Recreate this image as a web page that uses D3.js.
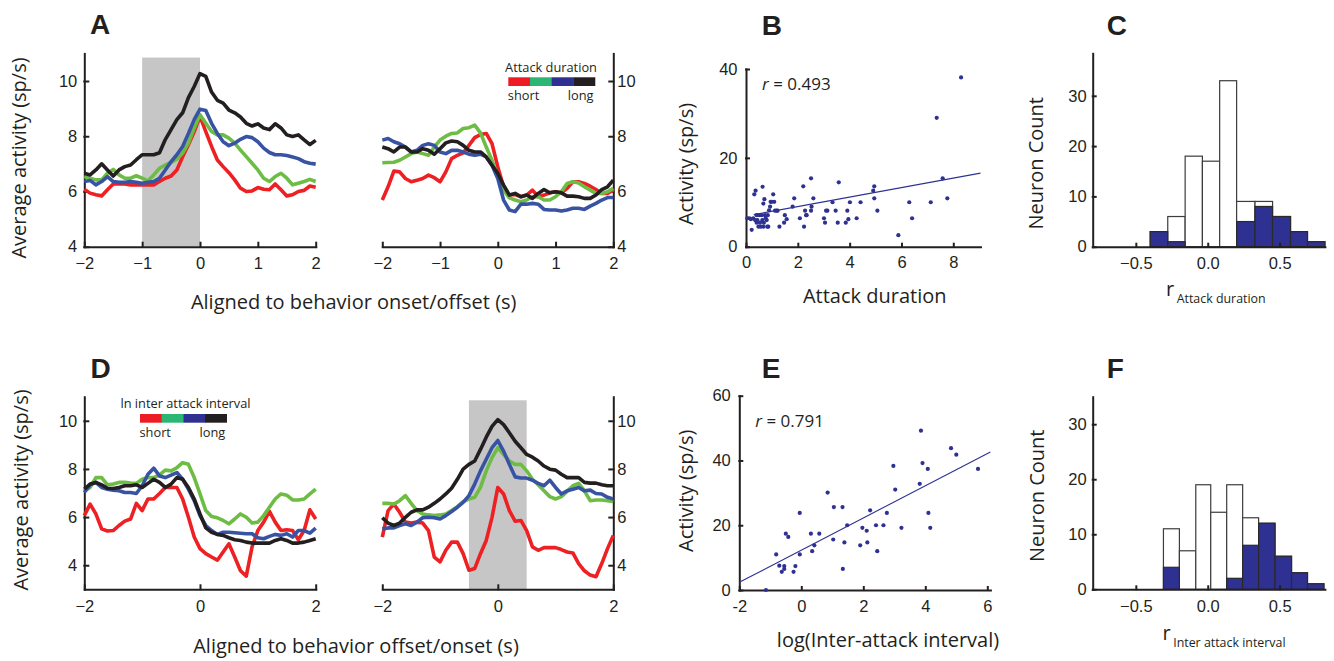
<!DOCTYPE html>
<html>
<meta charset="utf-8">
<title>Activity vs attack duration and inter-attack interval</title>
<style>
  body { margin: 0; background: #fff; }
  svg { display: block; }
  .tick text { font-family: "Liberation Sans", Arial, sans-serif; font-size: 16.5px; fill: #231f20; }
  .domain, .tick line { stroke: #231f20; stroke-width: 2px; stroke-linecap: square; }
  .lab { font-family: "Open Sans", sans-serif; font-size: 20px; fill: #231f20; }
  .leg { font-family: "Open Sans", sans-serif; font-size: 12.8px; fill: #231f20; }
  .letter { font-family: "Liberation Sans", Arial, sans-serif; font-weight: bold; font-size: 28px; fill: #231f20; }
  .trace { fill: none; stroke-width: 3.6px; stroke-linejoin: round; stroke-linecap: butt; }
</style>
<body>
<div id="chart"></div>
<script src="https://d3js.org/d3.v7.min.js"></script>
<script>

// time bins (s)
const T = [-2,-1.9,-1.8,-1.7,-1.6,-1.5,-1.4,-1.3,-1.2,-1.1,-1,-0.9,-0.8,-0.7,-0.6,-0.5,-0.4,-0.3,-0.2,-0.1,0,
           0.1,0.2,0.3,0.4,0.5,0.6,0.7,0.8,0.9,1,1.1,1.2,1.3,1.4,1.5,1.6,1.7,1.8,1.9,2];

// A, aligned to onset (left) / offset (right), by attack duration quartile
const aOnRed   = [6.08,5.94,5.88,5.84,6.06,6.27,6.27,6.27,6.24,6.24,6.24,6.24,6.24,6.36,6.48,6.56,6.78,7.26,7.69,8.17,8.72,8.17,7.63,7.14,6.9,6.68,6.42,6.12,6.0,6.02,6.14,6.08,6.06,6.27,6.06,5.84,5.88,6.0,6.04,6.2,6.15];
const aOnGreen = [6.54,6.48,6.42,6.42,6.66,6.8,6.6,6.48,6.48,6.57,6.48,6.38,6.6,6.84,6.96,7.05,7.17,7.39,7.75,8.3,8.78,8.47,8.17,8.05,8.05,7.93,7.75,7.5,7.26,7.02,6.78,6.48,6.36,6.54,6.66,6.48,6.24,6.3,6.36,6.44,6.36];
const aOnBlue  = [6.36,6.4,6.24,6.36,6.54,6.36,6.33,6.33,6.36,6.33,6.3,6.33,6.36,6.48,6.78,7.08,7.33,7.63,8.1,8.6,8.98,8.93,8.47,8.1,7.8,7.66,7.75,7.89,7.99,7.95,7.8,7.57,7.41,7.33,7.33,7.3,7.25,7.19,7.08,7.02,6.99];
const aOnBlack = [6.66,6.6,6.78,7.0,6.78,6.56,6.78,6.9,6.96,7.15,7.33,7.33,7.33,7.4,7.88,8.24,8.6,8.85,9.4,9.8,10.27,10.17,9.6,9.3,9.2,8.95,8.85,8.7,8.47,8.37,8.45,8.3,8.24,8.45,8.3,8.05,7.99,8.05,7.87,7.7,7.85];

const aOffRed   = [5.69,6.17,6.74,6.71,6.47,6.35,6.41,6.47,6.59,6.5,6.35,6.71,7.19,7.31,7.4,7.67,7.95,8.06,8.1,7.73,6.89,6.17,5.87,5.89,5.81,5.87,6.05,5.81,5.87,5.95,5.99,5.95,6.11,6.35,6.35,6.29,6.19,6.07,5.93,5.93,6.05];
const aOffGreen = [7.04,7.05,7.06,7.13,7.25,7.37,7.43,7.37,7.31,7.61,7.86,8.0,8.1,8.12,8.28,8.31,8.4,8.12,7.61,7.13,6.53,6.05,5.77,5.69,5.63,5.69,5.81,5.81,5.69,5.69,5.81,5.99,6.29,6.35,6.31,6.17,6.05,5.93,5.93,5.99,6.11];
const aOffBlue  = [7.86,7.92,7.8,7.73,7.61,7.43,7.49,7.67,7.73,7.67,7.43,7.37,7.49,7.49,7.43,7.35,7.31,7.35,7.25,6.95,6.47,5.69,5.33,5.27,5.54,5.54,5.57,5.54,5.35,5.33,5.33,5.29,5.33,5.39,5.39,5.35,5.47,5.57,5.69,5.78,5.78];
const aOffBlack = [7.61,7.55,7.43,7.61,7.61,7.43,7.43,7.55,7.49,7.35,7.55,7.76,7.83,7.8,7.67,7.49,7.43,7.43,7.25,6.95,6.65,6.23,5.87,5.93,5.81,5.87,5.75,5.93,6.07,5.95,5.99,5.95,5.83,5.83,5.81,5.75,5.75,5.87,6.07,6.17,6.41];

// D, aligned to offset (left) / onset (right), by inter-attack interval quartile
const dOffRed   = [6.06,6.54,6.13,5.51,5.42,5.44,5.65,5.83,5.92,6.57,6.27,6.75,6.75,6.98,7.23,7.23,7.23,6.75,5.99,5.17,4.69,4.48,4.34,4.21,4.55,4.89,4.34,3.77,3.55,4.76,5.44,5.79,6.24,5.79,5.44,5.47,5.44,5.06,5.44,6.3,5.92];
const dOffGreen = [7.09,7.23,7.64,7.64,7.34,7.37,7.44,7.44,7.41,7.4,7.57,7.64,7.64,7.75,7.95,7.92,8.05,8.26,8.19,7.64,6.96,6.27,6.02,5.97,5.86,5.72,5.92,6.13,5.99,5.75,5.79,6.06,6.41,6.75,6.96,6.91,6.71,6.71,6.75,6.96,7.16];
const dOffBlue  = [7.02,7.34,7.44,7.23,7.16,7.12,7.09,7.02,7.02,6.98,7.3,7.78,8.03,7.71,7.64,7.74,7.85,7.57,7.16,6.68,6.06,5.65,5.44,5.28,5.37,5.37,5.35,5.33,5.31,5.31,5.14,5.1,5.2,5.28,5.24,5.31,5.17,5.44,5.44,5.33,5.54];
const dOffBlack = [7.16,7.37,7.44,7.34,7.2,7.19,7.23,7.3,7.3,7.34,7.23,7.4,7.57,7.44,7.23,7.37,7.64,7.57,7.23,6.75,6.13,5.55,5.37,5.28,5.24,5.14,5.06,5.03,4.96,4.92,4.92,4.92,4.92,5.03,5.1,5.03,4.92,4.92,4.96,5.03,5.1];

const dOnRed   = [5.17,6.27,6.54,6.2,5.79,5.75,5.79,5.75,5.44,4.34,4.14,4.62,4.96,4.96,4.48,3.79,3.86,4.48,5.03,5.99,7.23,6.96,6.27,5.83,5.86,5.44,4.76,4.62,4.73,4.73,4.73,4.65,4.55,4.51,4.07,3.77,3.59,3.52,4.07,4.69,5.24];
const dOnGreen = [6.57,6.57,6.54,6.68,6.89,6.57,6.27,6.13,6.09,6.06,6.09,6.13,6.27,6.43,6.64,6.75,6.82,7.23,7.92,8.47,8.88,8.6,8.33,8.19,8.19,7.92,7.57,7.34,7.09,6.85,6.75,6.85,7.07,7.3,7.4,7.09,6.68,6.71,6.71,6.68,6.65];
const dOnBlue  = [5.51,5.55,5.55,5.65,5.72,5.65,5.79,5.97,5.99,5.97,5.92,6.06,6.23,6.41,6.61,6.89,7.37,7.92,8.4,8.88,9.18,8.74,8.19,7.67,7.62,7.62,7.53,7.4,7.3,7.53,7.23,6.96,7.09,7.16,7.23,7.09,7.12,6.98,6.96,6.82,6.75];
const dOnBlack = [5.97,5.75,5.65,5.75,5.99,6.2,6.3,6.3,6.41,6.57,6.75,6.96,7.2,7.57,7.99,8.19,8.33,8.81,9.32,9.77,10.05,9.84,9.5,9.15,8.88,8.6,8.49,8.33,8.12,7.99,7.95,7.78,7.64,7.64,7.64,7.44,7.41,7.41,7.34,7.3,7.3];

const lineColors = ['#ed2024', '#6dbd45', '#3953a4', '#231f20'];
const legendColors = ['#ed1c24', '#2bb673', '#2e3192', '#231f20'];

// B: activity vs attack duration
const bX = [0.05,0.13,0.19,0.22,0.28,0.35,0.32,0.37,0.41,0.41,0.44,0.48,0.51,0.54,0.57,0.6,0.63,0.64,0.67,0.67,0.69,0.71,0.73,0.76,0.8,0.82,0.86,0.84,0.89,0.93,0.95,0.99,1.05,1.09,1.12,1.18,1.22,1.29,1.47,1.5,1.57,1.8,1.86,2.08,2.21,2.24,2.28,2.32,2.34,2.51,2.53,2.51,2.6,3.01,3.05,3.09,3.14,3.34,3.46,3.54,3.58,3.85,3.91,3.95,4.01,4.27,4.42,4.91,4.95,4.95,5.07,5.88,6.3,6.41,7.13,7.36,7.59,7.77,8.3];
const bY = [6.4,6.4,6.2,3.8,6.4,6.0,11.8,12.6,7.1,5.4,6.0,4.5,7.1,5.4,4.5,7.1,6.0,13.5,9.7,4.5,5.4,10.7,7.1,6.4,6.0,4.5,4.5,7.1,8.2,9.0,10.1,10.1,11.8,10.1,8.1,8.1,8.1,4.5,5.4,7.1,6.2,9.0,10.9,6.4,13.6,4.5,8.1,7.1,7.1,8.1,9.0,15.4,10.9,6.4,5.4,8.1,8.1,10.0,8.1,5.4,14.5,5.4,8.1,6.2,10.0,6.4,10.0,12.6,13.6,10.9,8.1,2.6,10.0,6.4,10.0,29.0,15.4,10.9,38.1];
const bFit = { intercept: 6.9, slope: 1.067, from: 0.3, to: 9.05 };

// E: activity vs log inter-attack interval
const eX = [-1.14,-0.81,-0.71,-0.63,-0.55,-0.55,-0.5,-0.42,-0.25,-0.19,-0.05,-0.05,0.31,0.35,0.42,0.58,0.85,1.03,1.05,1.33,1.34,1.39,1.48,1.9,1.97,2.11,2.13,2.22,2.41,2.45,2.65,2.76,2.97,3.03,3.23,3.82,3.86,3.91,4.08,4.1,4.16,4.83,5.0,5.7];
const eY = [0,11.0,7.5,5.6,7.4,6.5,17.4,16.4,5.6,7.4,23.8,11.0,17.4,12.0,13.8,17.4,30.1,15.6,25.6,25.6,6.5,14.7,20.0,13.8,19.2,18.3,14.7,24.6,20.0,12.0,20.0,23.8,38.3,31.0,19.2,32.8,49.2,39.2,37.4,23.8,19.2,43.8,41.8,37.4];
const eFit = { intercept: 12.3, slope: 4.97, from: -2, to: 6.1 };

// C, F: histograms of r (all neurons / significant neurons)
const cEdges = [-0.40,-0.278,-0.157,-0.037,0.083,0.201,0.329,0.451,0.576,0.694,0.815];
const cAll   = [3,6,18,17,33,9,9,6,3,1];
const cSig   = [3,1,0,0,0,5,8,6,3,1];
const fEdges = [-0.308,-0.197,-0.083,0.021,0.132,0.243,0.354,0.468,0.583,0.694,0.808];
const fAll   = [11,7,19,14,19,13,12,6,3,1];
const fSig   = [4,0,0,0,2,8,12,6,3,1];

const svg = d3.select('#chart').append('svg')
  .attr('width', 1334)
  .attr('height', 661);
svg.append('rect').attr('width', 1334).attr('height', 661).attr('fill', '#fff');

const navy = '#2e3192';
const intFmt = d3.format('d');

function tracePanel(o) {
  const x = d3.scaleLinear().domain([-2, 2]).range([o.left, o.right]);
  const y = d3.scaleLinear().domain(o.yDom).range([o.bottom, o.top]);

  if (o.shade) {
    svg.append('rect')
      .attr('x', x(o.shade[0]))
      .attr('width', x(o.shade[1]) - x(o.shade[0]))
      .attr('y', y(10.85))
      .attr('height', y(o.yDom[0]) - y(10.85))
      .attr('fill', '#c6c6c6');
  }

  svg.append('g')
    .attr('transform', `translate(0,${o.bottom})`)
    .call(d3.axisBottom(x).tickValues(o.xTicks).tickFormat(intFmt)
      .tickSize(-4).tickSizeOuter(0).tickPadding(11));

  if (o.side === 'left') {
    svg.append('g')
      .attr('transform', `translate(${o.left},0)`)
      .call(d3.axisLeft(y).tickValues([4, 6, 8, 10]).tickFormat(intFmt)
        .tickSize(-4).tickSizeOuter(0).tickPadding(7));
  } else {
    svg.append('g')
      .attr('transform', `translate(${o.right},0)`)
      .call(d3.axisRight(y).tickValues([4, 6, 8, 10]).tickFormat(intFmt)
        .tickSize(-4).tickSizeOuter(0).tickPadding(4));
  }

  const line = d3.line().x((d, i) => x(T[i])).y(d => y(d));
  o.series.forEach((s, i) => {
    svg.append('path').attr('class', 'trace').attr('stroke', lineColors[i]).attr('d', line(s));
  });
}

function legend(o) {
  svg.append('text').attr('class', 'leg')
    .attr('x', o.cx).attr('y', o.titleY).attr('text-anchor', 'middle').text(o.title);
  const b = d3.scaleBand().domain(d3.range(legendColors.length)).range([o.x0, o.x1]);
  svg.append('g').selectAll('rect').data(legendColors).enter().append('rect')
    .attr('x', (d, i) => b(i))
    .attr('width', b.bandwidth() + 0.3)
    .attr('y', o.barY)
    .attr('height', 8.7)
    .attr('fill', d => d);
  svg.append('text').attr('class', 'leg').attr('x', o.x0 - 0.5).attr('y', o.textY).text('short');
  svg.append('text').attr('class', 'leg').attr('x', o.x1 - 1.5).attr('y', o.textY)
    .attr('text-anchor', 'end').text('long');
}

function scatterPanel(o) {
  const x = d3.scaleLinear().domain(o.xDom).range([o.left, o.right]);
  const y = d3.scaleLinear().domain(o.yDom).range([o.bottom, o.top]);

  svg.append('g')
    .attr('transform', `translate(0,${o.bottom})`)
    .call(d3.axisBottom(x).tickValues(o.xTicks).tickFormat(o.fmt || intFmt)
      .tickSize(-3).tickSizeOuter(0).tickPadding(10));
  svg.append('g')
    .attr('transform', `translate(${o.left},0)`)
    .call(d3.axisLeft(y).tickValues(o.yTicks).tickFormat(intFmt)
      .tickSize(-3).tickSizeOuter(0).tickPadding(8.5));

  svg.append('line')
    .attr('x1', x(o.fit.from)).attr('y1', y(o.fit.intercept + o.fit.slope * o.fit.from))
    .attr('x2', x(o.fit.to)).attr('y2', y(o.fit.intercept + o.fit.slope * o.fit.to))
    .attr('stroke', navy).attr('stroke-width', 1.1);

  svg.append('g').selectAll('circle').data(o.xs).enter().append('circle')
    .attr('cx', d => x(d))
    .attr('cy', (d, i) => y(o.ys[i]))
    .attr('r', 2.1)
    .attr('fill', navy);

  const t = svg.append('text').attr('class', 'lab').style('font-size', '17px')
    .attr('x', o.left + 16).attr('y', o.rY);
  t.append('tspan').style('font-style', 'italic').text('r');
  t.append('tspan').text(' = ' + o.r);
}

function histPanel(o) {
  const x = d3.scaleLinear().domain([-0.8, 0.815]).range([1092.7, 1324.9]);
  const y = d3.scaleLinear().domain(o.yDom).range([o.bottom, o.top]);

  const bins = o.all.map((n, i) => ({ x0: o.edges[i], x1: o.edges[i + 1], n: n, s: o.sig[i] }));
  const g = svg.append('g');
  g.selectAll('.all').data(bins).enter().append('rect')
    .attr('x', d => x(d.x0)).attr('width', d => x(d.x1) - x(d.x0))
    .attr('y', d => y(d.n)).attr('height', d => y(0) - y(d.n))
    .attr('fill', '#fff').attr('stroke', '#3c3c3c').attr('stroke-width', 1.2);
  g.selectAll('.sig').data(bins.filter(d => d.s > 0)).enter().append('rect')
    .attr('x', d => x(d.x0)).attr('width', d => x(d.x1) - x(d.x0))
    .attr('y', d => y(d.s)).attr('height', d => y(0) - y(d.s))
    .attr('fill', navy).attr('stroke', '#2a2a2a').attr('stroke-width', 1.2);

  svg.append('g')
    .attr('transform', `translate(0,${o.bottom})`)
    .call(d3.axisBottom(x).tickValues([-0.5, 0, 0.5]).tickSize(-3).tickSizeOuter(0).tickPadding(11));
  svg.append('g')
    .attr('transform', 'translate(1092.7,0)')
    .call(d3.axisLeft(y).tickValues([0, 10, 20, 30]).tickFormat(intFmt)
      .tickSize(-3).tickSizeOuter(0).tickPadding(6));

  const t = svg.append('text').attr('class', 'lab').attr('x', o.rX).attr('y', o.rY).text('r');
  t.append('tspan').style('font-size', '12.4px').attr('dx', 2.5).attr('dy', 7.3).text(o.sub);
}

function ylab(txt, bx, cy) {
  svg.append('text').attr('class', 'lab').attr('text-anchor', 'middle')
    .attr('transform', `translate(${bx},${cy}) rotate(-90)`).text(txt);
}
function xlab(txt, cx, by) {
  svg.append('text').attr('class', 'lab').attr('text-anchor', 'middle')
    .attr('x', cx).attr('y', by).text(txt);
}
function letter(txt, lx, by) {
  svg.append('text').attr('class', 'letter').attr('x', lx).attr('y', by).text(txt);
}

// ---- row 1
tracePanel({ left: 84.3, right: 315.7, top: 53.4, bottom: 246.7, yDom: [4, 11], side: 'left',
  xTicks: [-2, -1, 0, 1, 2], shade: [-1, 0], series: [aOnRed, aOnGreen, aOnBlue, aOnBlack] });
tracePanel({ left: 382.3, right: 613.3, top: 53.4, bottom: 246.7, yDom: [4, 11], side: 'right',
  xTicks: [-2, -1, 0, 1, 2], series: [aOffRed, aOffGreen, aOffBlue, aOffBlack] });
legend({ title: 'Attack duration', cx: 551, titleY: 71.7, x0: 508.3, x1: 595, barY: 77.3, textY: 100 });

scatterPanel({ left: 746, right: 980.5, top: 69, bottom: 246.7, xDom: [0, 9.05], yDom: [0, 40],
  xTicks: [0, 2, 4, 6, 8], yTicks: [0, 20, 40], xs: bX, ys: bY, fit: bFit, r: '0.493', rY: 89.5 });

histPanel({ top: 53.3, bottom: 246.7, yDom: [0, 38.45], edges: cEdges, all: cAll, sig: cSig,
  rX: 1166, rY: 296, sub: 'Attack duration' });

ylab('Average activity (sp/s)', 26, 158);
xlab('Aligned to behavior onset/offset (s)', 353.7, 309.3);
ylab('Activity (sp/s)', 693.3, 164);
xlab('Attack duration', 874.7, 303.3);
ylab('Neuron Count', 1042.7, 163.3);

// ---- row 2
tracePanel({ left: 84.3, right: 315.7, top: 396.7, bottom: 589.3, yDom: [3, 11], side: 'left',
  xTicks: [-2, 0, 2], series: [dOffRed, dOffGreen, dOffBlue, dOffBlack] });
tracePanel({ left: 382.3, right: 613.3, top: 396.7, bottom: 589.3, yDom: [3, 11], side: 'right',
  xTicks: [-2, 0, 2], shade: [-0.5, 0.5], series: [dOnRed, dOnGreen, dOnBlue, dOnBlack] });
legend({ title: 'ln inter attack interval', cx: 185.5, titleY: 407.7, x0: 140, x1: 226.7, barY: 414, textY: 436.5 });

scatterPanel({ left: 739.3, right: 990.4, top: 395.7, bottom: 590, xDom: [-2, 6.1], yDom: [0, 60],
  xTicks: [-2, 0, 2, 4, 6], yTicks: [0, 20, 40, 60], fmt: d => String(d),
  xs: eX, ys: eY, fit: eFit, r: '0.791', rY: 427 });

histPanel({ top: 396.7, bottom: 589.3, yDom: [0, 35], edges: fEdges, all: fAll, sig: fSig,
  rX: 1162.5, rY: 639.5, sub: 'Inter attack interval' });

ylab('Average activity (sp/s)', 28, 490);
xlab('Aligned to behavior offset/onset (s)', 356, 653.3);
ylab('Activity (sp/s)', 692.7, 490.8);
xlab('log(Inter-attack interval)', 888, 646.7);
ylab('Neuron Count', 1044, 495.8);

letter('A', 90, 34);
letter('B', 761.7, 35);
letter('C', 1106.7, 35);
letter('D', 90.5, 377.5);
letter('E', 761.7, 378);
letter('F', 1106.7, 377.7);

</script>
</body>
</html>
